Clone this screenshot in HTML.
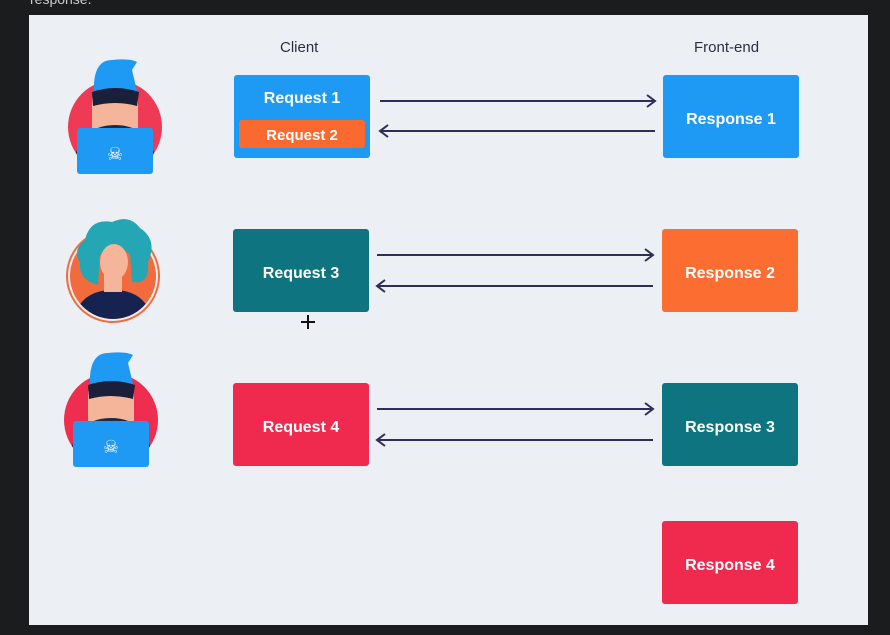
<!DOCTYPE html>
<html><head><style>
body{margin:0;width:890px;height:635px;background:#1b1c1e;position:relative;overflow:hidden;font-family:"Liberation Sans",sans-serif}
.p{position:absolute;left:29px;top:15px;width:839px;height:610px;background:#eceff3}
.b{position:absolute;width:136px;height:83px;border-radius:3px;color:#fff;font-weight:bold;font-size:16px;display:flex;align-items:center;justify-content:center;padding-top:6px;box-sizing:border-box}
.l{position:absolute;color:#2a2f45;font-size:15px}
svg{position:absolute;left:0;top:0}
</style></head><body>
<div style="position:absolute;left:30px;top:-9px;color:#ccc;font-size:14px">response.</div>
<div class="p"></div>
<div class="l" style="left:280px;top:39px">Client</div>
<div class="l" style="left:694px;top:39px">Front-end</div>
<div class="b" style="left:234px;top:75px;background:#1e9af5;align-items:flex-start;padding-top:15px">Request 1</div>
<div class="b" style="left:239px;top:120px;width:126px;height:28px;background:#fa6a30;font-size:15px;padding-top:2px">Request 2</div>
<div class="b" style="left:663px;top:75px;background:#1e9af5">Response 1</div>
<div class="b" style="left:233px;top:229px;background:#0e7580">Request 3</div>
<div class="b" style="left:662px;top:229px;background:#fb6d31">Response 2</div>
<div class="b" style="left:233px;top:383px;background:#f02a4e">Request 4</div>
<div class="b" style="left:662px;top:383px;background:#0e7580">Response 3</div>
<div class="b" style="left:662px;top:521px;background:#f02a4e">Response 4</div>
<svg width="890" height="635">
<g stroke="#2d2f5a" stroke-width="2" fill="none">
<path d="M380 101H655M647 95L655 101L647 107"/>
<path d="M380 131H655M388 125L380 131L388 137"/>
<path d="M377 255H653M645 249L653 255L645 261"/>
<path d="M377 286H653M385 280L377 286L385 292"/>
<path d="M377 409H653M645 403L653 409L645 415"/>
<path d="M377 440H653M385 434L377 440L385 446"/>
<path d="M308 315V329M301 322H315" stroke="#111"/>
</g>
<defs>
<clipPath id="c1"><circle cx="115" cy="127" r="47"/></clipPath>
<clipPath id="c2"><circle cx="113" cy="276" r="43"/></clipPath>
</defs>
<g id="h1">
<circle cx="115" cy="127" r="47" fill="#ef3a55"/>
<g clip-path="url(#c1)">
<rect x="92" y="98" width="46" height="37" fill="#f5b59a"/>
<path d="M72 175Q75 125 115 125Q155 125 158 175Z" fill="#1e2a4a"/>
</g>
<path d="M94 95Q92 60 112 60Q130 58 137 62L132 70L138 95Z" fill="#1e9af5"/>
<path d="M92 92Q115 84 139 92L137 106Q115 100 93 106Z" fill="#1a1f3a"/>
<rect x="77" y="128" width="76" height="46" rx="3" fill="#1e9af5"/>
<text x="115" y="160" fill="#fff" font-size="18" text-anchor="middle">☠</text>
</g>
<circle cx="113" cy="276" r="46" fill="none" stroke="#f26b3c" stroke-width="2"/>
<circle cx="113" cy="276" r="43" fill="#f26b3c"/>
<g clip-path="url(#c2)">
<path d="M72 330Q75 290 113 290Q151 290 154 330Z" fill="#162350"/>
<rect x="104" y="270" width="18" height="22" fill="#f5b59a"/>
</g>
<path d="M85 240Q90 218 112 222Q130 214 140 228Q158 240 148 262Q150 285 132 282L130 255Q115 240 100 255L98 285Q78 280 80 262Q72 250 85 240Z" fill="#24a6b5"/>
<ellipse cx="114" cy="262" rx="14" ry="18" fill="#f5b59a"/>
<g transform="translate(-4 293)">
<circle cx="115" cy="127" r="47" fill="#ef2d4f"/>
<g clip-path="url(#c1)">
<rect x="92" y="98" width="46" height="37" fill="#f5b59a"/>
<path d="M72 175Q75 125 115 125Q155 125 158 175Z" fill="#1e2a4a"/>
</g>
<path d="M94 95Q92 60 112 60Q130 58 137 62L132 70L138 95Z" fill="#1e9af5"/>
<path d="M92 92Q115 84 139 92L137 106Q115 100 93 106Z" fill="#1a1f3a"/>
<rect x="77" y="128" width="76" height="46" rx="3" fill="#1e9af5"/>
<text x="115" y="160" fill="#fff" font-size="18" text-anchor="middle">☠</text>
</g>
</svg>
</body></html>
